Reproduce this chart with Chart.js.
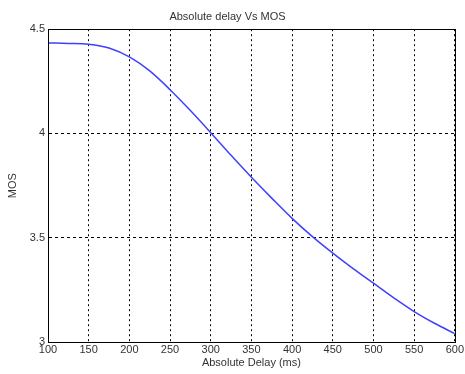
<!DOCTYPE html>
<html>
<head>
<meta charset="utf-8">
<script src="https://cdn.jsdelivr.net/npm/chart.js@4/dist/chart.umd.min.js"></script>
<style>
  html, body { margin: 0; padding: 0; background: #fff; }
  #wrap { width: 465px; height: 374px; }
</style>
</head>
<body>
<div id="wrap"><canvas id="mosChart"></canvas></div>
<script>
// values
const delays = [100, 125, 150, 175, 200, 225, 250, 275, 300, 325, 350, 375, 400, 425, 450, 475, 500, 525, 550, 575, 600];
const mosValues = [4.434, 4.432, 4.428, 4.41, 4.367, 4.30, 4.21, 4.11, 4.004, 3.895, 3.79, 3.69, 3.593, 3.505, 3.426, 3.352, 3.282, 3.212, 3.146, 3.09, 3.04];
const xTicks = [100, 150, 200, 250, 300, 350, 400, 450, 500, 550, 600];
const yTicks = [3, 3.5, 4, 4.5];

const txt = '#333';
const fontSpec = { family: 'Liberation Sans, Arial, sans-serif', size: 11, weight: 'normal' };

// draws the closed axes box like MATLAB
const boxPlugin = {
  id: 'box',
  afterDraw(chart) {
    const a = chart.chartArea;
    const c = chart.ctx;
    c.save();
    c.strokeStyle = '#000';
    c.lineWidth = 1;
    c.setLineDash([]);
    c.strokeRect(Math.round(a.left) + 0.5, Math.round(a.top) + 0.5, Math.round(a.right - a.left), Math.round(a.bottom - a.top));
    c.restore();
  }
};

const ctx = document.getElementById('mosChart');
if (ctx) {
  new Chart(ctx, {
    type: 'line',
    data: {
      datasets: [{
        data: delays.map((d, i) => ({ x: d, y: mosValues[i] })),
        borderColor: '#4040ff',
        borderWidth: 1.5,
        pointRadius: 0,
        cubicInterpolationMode: 'monotone',
        fill: false
      }]
    },
    options: {
      responsive: true,
      maintainAspectRatio: false,
      animation: false,
      layout: { padding: { left: 0, right: 10, top: 0, bottom: 0 } },
      plugins: {
        legend: { display: false },
        tooltip: { enabled: false },
        title: {
          display: true,
          text: 'Absolute delay Vs MOS',
          color: txt,
          font: fontSpec,
          padding: { top: 10, bottom: 6 }
        }
      },
      scales: {
        x: {
          type: 'linear',
          min: 100,
          max: 600,
          afterBuildTicks: (s) => { s.ticks = xTicks.map(v => ({ value: v })); },
          afterFit: (s) => { s.height = 32; },
          ticks: { color: txt, font: fontSpec, padding: 1, maxRotation: 0 },
          grid: { color: '#000', drawTicks: false, lineWidth: 1 },
          border: { color: '#000', dash: [2, 3] },
          title: {
            display: true,
            text: 'Absolute Delay (ms)',
            color: txt,
            font: fontSpec,
            padding: { top: 0, bottom: 4 }
          }
        },
        y: {
          type: 'linear',
          min: 3,
          max: 4.5,
          afterBuildTicks: (s) => { s.ticks = yTicks.map(v => ({ value: v })); },
          afterFit: (s) => { s.width = 48; },
          ticks: { color: txt, font: fontSpec, padding: 3, callback: (v) => String(v) },
          grid: { color: '#000', drawTicks: false, lineWidth: 1 },
          border: { color: '#000', dash: [3, 3] },
          title: {
            display: true,
            text: 'MOS',
            color: txt,
            font: fontSpec,
            padding: { top: 6, bottom: 0 }
          }
        }
      }
    },
    plugins: [boxPlugin]
  });
}
</script>
</body>
</html>
